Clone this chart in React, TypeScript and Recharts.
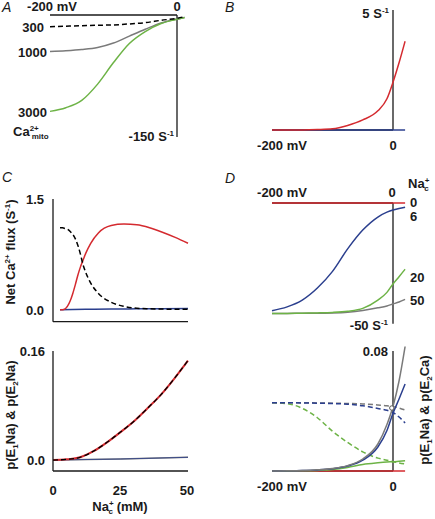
import React from 'react'
import { LineChart, Line, XAxis, YAxis } from 'recharts'

const FONT = '"Liberation Sans", Arial, Helvetica, sans-serif'
const RED = '#d42a2f'
const GREEN = '#6db346'
const BLUE = '#2b3f8e'
const GRAY = '#7a7a7a'
const INK = '#1a1a1a'

// ── A: flux vs potential for three Ca2+mito levels ──
const mvA = [-200, -175, -150, -125, -100, -75, -50, -25, 0, 12]
const fluxA300 = [-14.3, -13.8, -13.2, -12.6, -12.2, -11.0, -9.4, -6.5, -4.0, -2.0]
const fluxA1000 = [-45.0, -44.0, -42.5, -40.0, -34.5, -26.0, -17.6, -9.8, -4.9, -3.0]
const fluxA3000 = [-118.5, -114.0, -105.0, -85.0, -58.5, -35.0, -20.4, -10.5, -5.3, -3.0]

// ── B ──
const mvB = [-200, -175, -150, -125, -100, -75, -50, -25, -10, 0, 10, 20]
const fluxBRed = [0, 0.002, 0.005, 0.02, 0.05, 0.19, 0.42, 0.8, 1.3, 1.99, 2.8, 3.7]
const fluxBBlue = [0, 0, 0, 0, 0, 0, 0, 0, 0, 0, 0, 0]

// ── C top: net flux vs Na+c ──
const naC = [0, 1, 2, 3, 4, 5, 6, 7, 8, 9, 10, 12, 15, 20, 25, 30, 35, 40, 45, 50]
const netRed = [0, 0, 0.01, 0.05, 0.12, 0.22, 0.34, 0.47, 0.58, 0.67, 0.76, 0.9, 1.04, 1.14, 1.16, 1.15, 1.11, 1.05, 0.98, 0.9]
const netBlack = [1.11, 1.11, 1.1, 1.09, 1.06, 1.02, 0.96, 0.87, 0.75, 0.61, 0.51, 0.36, 0.22, 0.1, 0.045, 0.02, 0.012, 0.008, 0.006, 0.005]
const naCBlue = [0, 10, 20, 30, 40, 50]
const netBlue = [0, 0.004, 0.008, 0.011, 0.014, 0.017]

// ── C bottom: occupancies vs Na+c ──
const naE = [0, 5, 10, 15, 20, 25, 30, 35, 40, 45, 50]
const pE1Na = [0, 0.001, 0.004, 0.013, 0.026, 0.041, 0.057, 0.076, 0.096, 0.12, 0.146]
const naE2 = [0, 25, 50]
const pE2Na = [0, 0.0015, 0.004]

// ── D top: flux vs potential for Na+c levels ──
const mvD = [-200, -175, -150, -125, -100, -75, -50, -25, -10, 0, 10, 20]
const fluxD0 = [0, 0, 0, 0, 0, 0, 0, 0, 0, 0, 0, 0]
const fluxD6 = [-44.6, -43, -40.2, -35.2, -28.3, -19, -11.2, -5.8, -3.8, -2.9, -2.3, -1.8]
const fluxD20 = [-45.7, -45.7, -45.6, -45.5, -45.3, -44.8, -43.6, -40.2, -37, -33.5, -30.5, -27.4]
const fluxD50 = [-45.7, -45.7, -45.6, -45.6, -45.5, -45.2, -44.5, -43.4, -42.6, -41.8, -41, -39.9]

// ── D bottom: p(E1Na) solid, p(E2Ca) dashed ──
const pNa0 = [0, 0, 0, 0, 0, 0, 0, 0, 0, 0, 0, 0]
const pNa6 = [0, 0.0001, 0.0003, 0.0007, 0.0015, 0.0033, 0.0072, 0.016, 0.027, 0.0385, 0.048, 0.058]
const pNa20 = [0, 0, 0.0001, 0.0004, 0.001, 0.0024, 0.0044, 0.0055, 0.006, 0.0062, 0.0065, 0.0068]
const pNa50 = [0, 0.0001, 0.0003, 0.0008, 0.0017, 0.0036, 0.008, 0.018, 0.031, 0.043, 0.06, 0.083]
const pCa6 = [0.0455, 0.0455, 0.0454, 0.0452, 0.045, 0.0445, 0.0435, 0.0417, 0.0405, 0.039, 0.036, 0.032]
const pCa20 = [0.0455, 0.0449, 0.0418, 0.0355, 0.0265, 0.019, 0.0128, 0.0086, 0.0072, 0.0062, 0.0054, 0.0047]
const pCa50 = [0.0455, 0.0455, 0.0455, 0.0454, 0.0452, 0.045, 0.0447, 0.044, 0.0435, 0.043, 0.042, 0.0407]
const circleX = [-2]
const circleY = [0.042]

const pts = (xs: number[], ys: number[]) => xs.map((x, i) => ({ x, y: ys[i] }))

type Box = { left: number; right: number; top: number; bottom: number }
const PAD = 24

// plot area sits exactly on box; non-mirrored axes are 1px thick, so take that off the margin
const Frame = ({ box, axB = 0, axL = 0, children }: { box: Box; axB?: number; axL?: number; children: React.ReactNode }) => (
  <div style={{ position: 'absolute', left: box.left - PAD, top: box.top - PAD }}>
    <LineChart
      width={box.right - box.left + 2 * PAD}
      height={box.bottom - box.top + 2 * PAD}
      margin={{ top: PAD, right: PAD, bottom: PAD - axB, left: PAD - axL }}
    >
      {children}
    </LineChart>
  </div>
)

const axisStyle = {
  axisLine: { stroke: INK, strokeWidth: 1.3 },
  tickLine: { stroke: INK, strokeWidth: 1.3 },
  tick: false as const,
  tickSize: 4,
}

const hiddenX = (d: [number, number]) => <XAxis type="number" dataKey="x" domain={d} hide />
const hiddenY = (d: [number, number]) => <YAxis type="number" domain={d} hide />

const series = (data: { x: number; y: number }[], color: string, dashed = false, w = 1.5) => (
  <Line
    data={data}
    dataKey="y"
    type="monotone"
    stroke={color}
    strokeWidth={w}
    strokeDasharray={dashed ? '5 3' : undefined}
    dot={false}
    isAnimationActive={false}
  />
)

const T = ({ x, y, a = 'start', size = 13, italic = false, children }: any) => {
  const tx = a === 'start' ? '0' : a === 'middle' ? '-50%' : '-100%'
  return (
    <div
      style={{
        position: 'absolute', left: x, top: y, transform: `translate(${tx},-50%)`,
        fontSize: size, fontWeight: italic ? 400 : 700, fontStyle: italic ? 'italic' : 'normal',
        whiteSpace: 'nowrap', lineHeight: 1,
      }}
    >
      {children}
    </div>
  )
}

const Rot = ({ x, y, children }: any) => (
  <div
    style={{
      position: 'absolute', left: x, top: y, transform: 'translate(-50%,-50%) rotate(-90deg)',
      fontSize: 13, fontWeight: 700, whiteSpace: 'nowrap', lineHeight: 1,
    }}
  >
    {children}
  </div>
)

const Sup = ({ children, ml = 0 }: any) => (
  <span style={{ fontSize: 8, position: 'relative', top: -5, marginLeft: ml }}>{children}</span>
)
const Sub = ({ children, ml = 0 }: any) => (
  <span style={{ fontSize: 8, position: 'relative', top: 3, marginLeft: ml }}>{children}</span>
)

export default function App() {
  return (
    <div style={{ position: 'absolute', left: 0, top: 0, width: 435, height: 519, background: '#fff', fontFamily: FONT, color: INK }}>
      {/* A axes */}
      <Frame box={{ left: 50, right: 177, top: 15, bottom: 137 }}>
        <XAxis type="number" dataKey="x" orientation="top" mirror height={1} domain={[-200, 0]} ticks={[-200, -100, 0]} allowDataOverflow {...axisStyle} />
        <YAxis type="number" orientation="right" mirror width={1} domain={[-150, 0]} ticks={[-150, -100, -50, 0]} allowDataOverflow {...axisStyle} />
      </Frame>
      <Frame box={{ left: 50, right: 184.6, top: 15, bottom: 137 }}>
        {hiddenX([-200, 12])}
        {hiddenY([-150, 0])}
        {series(pts(mvA, fluxA1000), GRAY)}
        {series(pts(mvA, fluxA3000), GREEN)}
        {series(pts(mvA, fluxA300), '#000', true)}
      </Frame>

      {/* B axes */}
      <Frame box={{ left: 272, right: 393, top: 9.5, bottom: 129.5 }} axB={1}>
        <XAxis type="number" dataKey="x" orientation="bottom" height={1} domain={[-200, 0]} ticks={[-200, -100, 0]} allowDataOverflow {...axisStyle} />
        <YAxis type="number" orientation="right" mirror width={1} domain={[0, 5]} ticks={[0, 2.5, 5]} allowDataOverflow {...axisStyle} />
      </Frame>
      <Frame box={{ left: 272, right: 405.1, top: 9.5, bottom: 129.5 }}>
        {hiddenX([-200, 20])}
        {hiddenY([0, 5])}
        {series(pts(mvB, fluxBBlue), BLUE)}
        {series(pts(mvB, fluxBRed), RED)}
      </Frame>

      {/* C top */}
      <Frame box={{ left: 53, right: 188, top: 199.3, bottom: 322 }} axB={1} axL={1}>
        <XAxis type="number" dataKey="x" orientation="bottom" height={1} domain={[-2.73, 50]} ticks={[0, 25, 50]} {...axisStyle} />
        <YAxis type="number" orientation="left" width={1} domain={[-0.163, 1.5]} ticks={[0, 1.5]} {...axisStyle} />
        {series(pts(naCBlue, netBlue), BLUE)}
        {series(pts(naC, netRed), RED)}
        {series(pts(naC, netBlack), '#000', true)}
      </Frame>

      {/* C bottom */}
      <Frame box={{ left: 53, right: 188, top: 351, bottom: 471 }} axB={1} axL={1}>
        <XAxis type="number" dataKey="x" orientation="bottom" height={1} domain={[0, 50]} ticks={[0, 25, 50]} {...axisStyle} tickLine={false} />
        <YAxis type="number" orientation="left" width={1} domain={[-0.0161, 0.16]} ticks={[0, 0.08, 0.16]} {...axisStyle} />
        {series(pts(naE2, pE2Na), GRAY)}
        {series(pts(naE2, pE2Na), BLUE, false, 0.8)}
        {series(pts(naE, pE1Na), RED, false, 2)}
        {series(pts(naE, pE1Na), '#000', true, 1.3)}
      </Frame>

      {/* D top */}
      <Frame box={{ left: 272, right: 393, top: 202.5, bottom: 323.3 }}>
        <XAxis type="number" dataKey="x" orientation="top" mirror height={1} domain={[-200, 0]} ticks={[-200, -100, 0]} allowDataOverflow {...axisStyle} />
        <YAxis type="number" orientation="right" mirror width={1} domain={[-50, 0]} ticks={[-50, -25, 0]} allowDataOverflow {...axisStyle} />
      </Frame>
      <Frame box={{ left: 272, right: 405.1, top: 202.5, bottom: 323.3 }}>
        {hiddenX([-200, 20])}
        {hiddenY([-50, 0])}
        {series(pts(mvD, fluxD50), GRAY)}
        {series(pts(mvD, fluxD20), GREEN)}
        {series(pts(mvD, fluxD6), BLUE)}
        {series(pts(mvD, fluxD0), RED)}
      </Frame>

      {/* D bottom */}
      <Frame box={{ left: 272, right: 393, top: 351, bottom: 471 }} axB={1}>
        <XAxis type="number" dataKey="x" orientation="bottom" height={1} domain={[-200, 0]} ticks={[-200, -100, 0]} allowDataOverflow {...axisStyle} />
        <YAxis type="number" orientation="right" mirror width={1} domain={[0, 0.08]} ticks={[0, 0.08]} allowDataOverflow {...axisStyle} />
      </Frame>
      <Frame box={{ left: 272, right: 405.1, top: 336, bottom: 471 }}>
        {hiddenX([-200, 20])}
        {hiddenY([0, 0.09])}
        {series(pts(mvD, pNa0), RED)}
        {series(pts(mvD, pNa20), GREEN)}
        {series(pts(mvD, pCa20), GREEN, true)}
        {series(pts(mvD, pCa50), GRAY, true)}
        {series(pts(mvD, pCa6), BLUE, true)}
        {series(pts(mvD, pNa6), BLUE)}
        {series(pts(mvD, pNa50), GRAY)}
        <Line
          data={pts(circleX, circleY)}
          dataKey="y"
          stroke="none"
          dot={{ r: 2.2, fill: '#fff', stroke: '#555', strokeWidth: 1 }}
          isAnimationActive={false}
        />
      </Frame>

      {/* A labels */}
      <T x={2} y={7} italic size={14}>A</T>
      <T x={52} y={6} a="middle">-200 mV</T>
      <T x={177} y={6} a="middle">0</T>
      <T x={44} y={27} a="end">300</T>
      <T x={47} y={52} a="end">1000</T>
      <T x={47} y={112} a="end">3000</T>
      <T x={13} y={131}>Ca<Sup>2+</Sup><Sub ml={-7}>mito</Sub></T>
      <T x={174} y={136} a="end">-150 S<Sup>-1</Sup></T>

      {/* B labels */}
      <T x={225} y={7} italic size={14}>B</T>
      <T x={389} y={13} a="end">5 S<Sup>-1</Sup></T>
      <T x={282} y={145} a="middle">-200 mV</T>
      <T x={393} y={145} a="middle">0</T>

      {/* C labels */}
      <T x={2} y={177} italic size={14}>C</T>
      <T x={44} y={199} a="end">1.5</T>
      <T x={44} y={310} a="end">0.0</T>
      <Rot x={10} y={252}>Net Ca<Sup>2+</Sup> flux (S<Sup>-1</Sup>)</Rot>
      <T x={45} y={351} a="end">0.16</T>
      <T x={45} y={460} a="end">0.0</T>
      <Rot x={10} y={415}>p(E<Sub>1</Sub>Na) &amp; p(E<Sub>2</Sub>Na)</Rot>
      <T x={53} y={490} a="middle">0</T>
      <T x={120} y={490} a="middle">25</T>
      <T x={187} y={490} a="middle">50</T>
      <T x={120} y={506} a="middle">Na<Sup>+</Sup><Sub ml={-5}>c</Sub> (mM)</T>

      {/* D labels */}
      <T x={225} y={178} italic size={14}>D</T>
      <T x={282} y={192} a="middle">-200 mV</T>
      <T x={392} y={192} a="middle">0</T>
      <T x={408} y={183}>Na<Sup>+</Sup><Sub ml={-5}>c</Sub></T>
      <T x={410} y={202}>0</T>
      <T x={410} y={216}>6</T>
      <T x={410} y={277}>20</T>
      <T x={410} y={300}>50</T>
      <T x={388} y={325} a="end">-50 S<Sup>-1</Sup></T>
      <T x={388} y={351} a="end">0.08</T>
      <Rot x={424} y={410}>p(E<Sub>1</Sub>Na) &amp; p(E<Sub>2</Sub>Ca)</Rot>
      <T x={282} y={486} a="middle">-200 mV</T>
      <T x={393} y={486} a="middle">0</T>
    </div>
  )
}
